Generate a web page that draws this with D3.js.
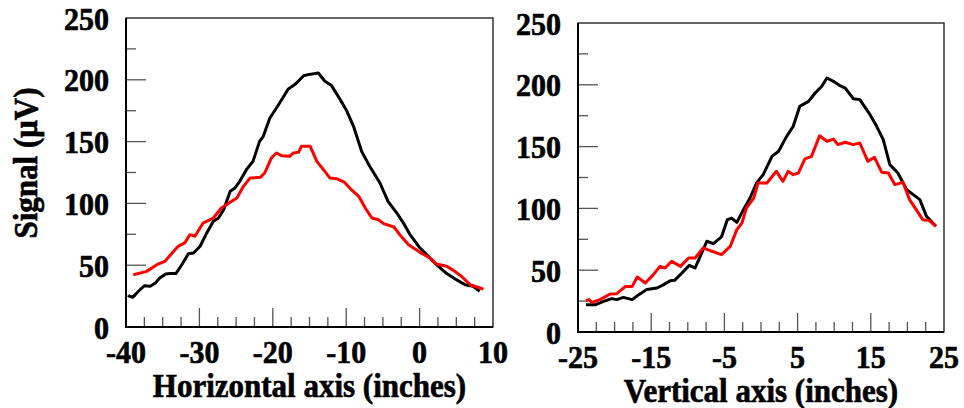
<!DOCTYPE html>
<html>
<head>
<meta charset="utf-8">
<script src="https://cdn.jsdelivr.net/npm/d3@7"></script>
<style>
  body { margin: 0; background: #fff; }
</style>
</head>
<body>
<div id="chart"></div>
<script>
// horizontal scan
var hBlackX = [-39.7, -39.1, -38.3, -37.5, -36.7, -36.0, -35.4, -34.6, -34.0, -33.2, -32.4, -31.5, -30.8, -29.9, -29.0, -28.1, -27.4, -26.7, -25.8, -25.2, -24.5, -23.6, -22.7, -21.8, -21.3, -20.4, -19.5, -18.8, -17.9, -17.0, -15.8, -15.2, -13.8, -12.9, -12.0, -10.8, -9.9, -9.0, -7.9, -6.8, -5.4, -4.3, -3.1, -2.2, -1.3, 0.05, 1.2, 2.3, 3.7, 5.0, 6.2, 7.3, 8.2];
var hBlackY = [25.4, 24, 28.9, 33.4, 32.9, 35.6, 39.6, 42.9, 43.2, 43.2, 50.4, 59.3, 59.9, 65.3, 76.1, 85.5, 88.2, 94.9, 109.8, 112.2, 117.9, 127.3, 134, 150.2, 154.3, 169.1, 177.2, 183.9, 192.6, 196.1, 203.3, 204.2, 205.5, 198.8, 195.3, 183.9, 174.5, 162.4, 142.1, 130, 116.5, 101.7, 92.2, 84.1, 74.7, 63.9, 57.2, 50.4, 43.2, 38.3, 34.2, 32.9, 28.9];
var hRedX = [-39.0, -37.2, -35.8, -34.7, -33.8, -32.9, -32.0, -31.3, -30.6, -29.5, -28.1, -27.0, -25.8, -24.9, -24.0, -23.1, -21.7, -21.1, -20.2, -19.5, -18.8, -17.7, -17.2, -16.5, -16.1, -14.9, -14.0, -13.1, -12.2, -11.3, -10.2, -9.3, -8.3, -7.4, -6.5, -5.6, -4.9, -3.5, -2.7, -1.5, 0.05, 1.4, 2.3, 3.7, 4.6, 5.7, 6.9, 7.8, 8.7];
var hRedY = [42.3, 45, 50.4, 53.1, 59.3, 65.3, 68, 74.7, 73.4, 84.1, 88.2, 96.3, 100.9, 104.4, 113.8, 120.5, 121.1, 124.6, 136.7, 140.8, 138.6, 138.1, 140.8, 141.3, 146.2, 146.2, 134, 127.3, 120.5, 120, 117, 111.1, 105.7, 96.3, 88.2, 86.8, 83.6, 80.9, 74.7, 66.6, 60.4, 55.8, 51, 49.1, 45.8, 41, 34.2, 32.4, 30.7];

// vertical scan
var vBlackX = [-23.9, -22.6, -21.5, -20.4, -19.7, -18.8, -17.6, -16.7, -15.6, -14.2, -13.3, -12.4, -11.8, -10.8, -9.8, -9.0, -8.1, -7.4, -6.5, -5.4, -4.6, -4.0, -3.3, -2.4, -1.5, -0.6, 0.3, 1.5, 2.4, 3.5, 4.4, 5.3, 6.5, 7.4, 8.3, 9.0, 9.9, 10.8, 11.5, 12.6, 13.5, 14.9, 15.8, 16.7, 17.6, 18.7, 19.9, 20.8, 21.7, 22.6, 23.9];
var vBlackY = [22.1, 22.1, 24.8, 27, 26.2, 28, 26.2, 30.2, 34.3, 35.6, 38.3, 41.5, 41.8, 47.7, 53.9, 51.8, 63.9, 73.4, 71.5, 76.9, 90.9, 92.2, 88.7, 99, 108.4, 120.6, 127.3, 142.1, 146.2, 158.3, 166.4, 182.6, 186.6, 193.4, 198.8, 205.5, 202.8, 199.3, 197.4, 188.8, 188, 175.8, 166.4, 155.6, 135.4, 128.6, 115.2, 111.1, 107.1, 93.6, 85.5];
var vRedX = [-23.9, -23.5, -23.1, -22.0, -20.6, -19.7, -18.5, -17.6, -16.9, -15.8, -14.7, -13.8, -13.1, -12.2, -11.0, -9.9, -9.0, -7.9, -6.7, -5.4, -4.2, -3.3, -2.6, -2.0, -1.0, -0.4, 0.8, 2.1, 3.0, 3.7, 4.4, 5.1, 6.0, 6.9, 8.0, 9.0, 9.9, 10.5, 11.5, 12.6, 13.5, 14.6, 15.5, 16.5, 17.4, 18.3, 19.4, 20.3, 21.2, 22.1, 23.0, 23.9];
var vRedY = [25.4, 26.2, 24, 26.2, 30.7, 31, 36.9, 36.9, 44.5, 39.6, 46.4, 53.1, 51.8, 57.2, 53.1, 59.9, 59.9, 68, 65.3, 62.6, 69.3, 82.8, 88.2, 100.3, 108.4, 120.6, 120.6, 130, 121.9, 130, 127.3, 128.6, 140, 142.1, 158.8, 154.3, 156.1, 151.6, 153.5, 151.6, 152.9, 138.1, 141.3, 129.2, 128.6, 119.2, 121.1, 107.1, 99, 90.9, 90.1, 85.5];

var yTicks = [0, 50, 100, 150, 200, 250];
var hTicks = [-40, -30, -20, -10, 0, 10];
var vTicks = [-25, -15, -5, 5, 15, 25];

var FONT = "'Liberation Serif', 'Times New Roman', Tinos, 'DejaVu Serif', serif";

var svg = d3.select("#chart").append("svg")
  .attr("width", 964)
  .attr("height", 408);

function zip(xs, ys) {
  return xs.map(function (x, i) { return [x, ys[i]]; });
}

function label(g, tx, ty, size, anchor, txt, rot) {
  return g.append("text")
    .attr("transform", "translate(" + tx + "," + ty + ")" + (rot ? " rotate(" + rot + ")" : "") + " scale(1,1.06)")
    .attr("text-anchor", anchor)
    .style("font-family", FONT)
    .style("font-weight", "bold")
    .style("font-size", size + "px")
    .attr("fill", "#000")
    .attr("stroke", "#000")
    .attr("stroke-width", 0.6)
    .text(txt);
}

function panel(opt) {
  var x = d3.scaleLinear().domain(opt.xDomain).range([opt.left, opt.right]);
  var y = d3.scaleLinear().domain([0, 250]).range([opt.bottom, opt.top]);
  var g = svg.append("g");

  // ticks point inward, majors every 10 on x and 50 on y
  d3.range(opt.xDomain[0] + 2.5, opt.xDomain[1], 2.5).forEach(function (v) {
    var major = Math.abs((v - opt.xDomain[0]) % 10) < 0.01;
    g.append("line")
      .attr("x1", x(v)).attr("x2", x(v))
      .attr("y1", opt.bottom).attr("y2", opt.bottom - (major ? 19 : 10))
      .attr("stroke", "#555").attr("stroke-width", 1.3);
  });
  d3.range(25, 250, 25).forEach(function (v) {
    var major = v % 50 === 0;
    g.append("line")
      .attr("x1", opt.left).attr("x2", opt.left + (major ? 20 : 10))
      .attr("y1", y(v)).attr("y2", y(v))
      .attr("stroke", "#555").attr("stroke-width", 1.3);
  });

  g.append("rect")
    .attr("x", opt.left).attr("y", opt.top)
    .attr("width", opt.right - opt.left).attr("height", opt.bottom - opt.top)
    .attr("fill", "none").attr("stroke", "#000").attr("stroke-width", 1.2);
  g.append("path")
    .attr("d", "M" + opt.left + "," + opt.top + "V" + opt.bottom + "H" + opt.right)
    .attr("fill", "none").attr("stroke", "#000").attr("stroke-width", 2);

  var line = d3.line().x(function (d) { return x(d[0]); }).y(function (d) { return y(d[1]); });
  g.append("path").datum(opt.black).attr("d", line)
    .attr("fill", "none").attr("stroke", "#000").attr("stroke-width", 3).attr("stroke-linejoin", "round");
  g.append("path").datum(opt.red).attr("d", line)
    .attr("fill", "none").attr("stroke", "#ff0000").attr("stroke-width", 3).attr("stroke-linejoin", "round");

  yTicks.forEach(function (v) {
    label(g, opt.left - 17, y(v) + 11.5, 30, "end", v);
  });
  opt.xTicks.forEach(function (v) {
    label(g, x(v), opt.bottom + 36, 30, "middle", v);
  });

  label(g, (opt.left + opt.right) / 2, opt.bottom + 70, 31, "middle", opt.title);
  return g;
}

panel({
  left: 126, right: 493, top: 18, bottom: 327,
  xDomain: [-40, 10], xTicks: hTicks,
  black: zip(hBlackX, hBlackY), red: zip(hRedX, hRedY),
  title: "Horizontal axis (inches)"
});

panel({
  left: 578, right: 944, top: 23, bottom: 332,
  xDomain: [-25, 25], xTicks: vTicks,
  black: zip(vBlackX, vBlackY), red: zip(vRedX, vRedY),
  title: "Vertical axis (inches)"
});

label(svg, 37, 163, 31, "middle", "Signal (\u03bcV)", -90);
</script>
</body>
</html>
